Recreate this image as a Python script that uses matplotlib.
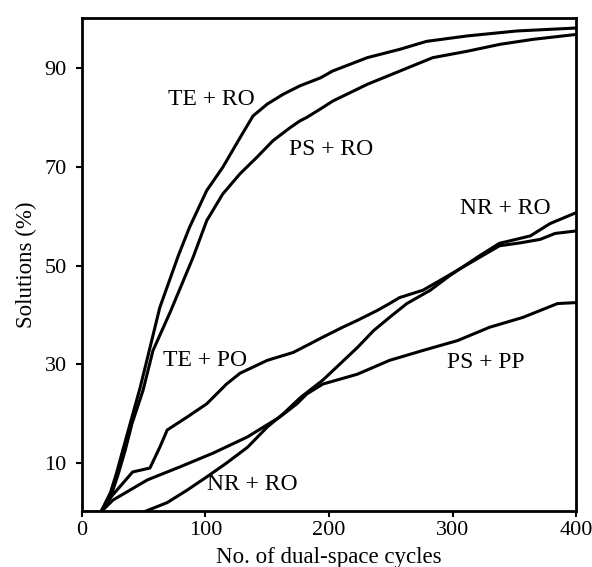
import matplotlib
matplotlib.use("Agg")
import matplotlib.pyplot as plt

# curves (x = dual-space cycles, y = solutions %)
te_ro_x = [0, 15, 23, 28, 33, 39, 47, 54, 63, 78, 87, 101, 114, 128, 138.5, 150, 163, 176.5, 193,
           203, 231, 257.5, 279, 312, 352, 400]
te_ro_y = [0, 0, 4, 8, 12.6, 18, 25.2, 32.3, 41.5, 52, 57.7, 65.2, 69.9, 75.9, 80.3, 82.7, 84.7, 86.4, 88,
           89.4, 92.1, 93.8, 95.4, 96.5, 97.5, 98.1]

ps_ro_x = [0, 15, 23, 29, 35, 40.5, 49.4, 57.5, 71.3, 90, 101, 114, 128, 141.5, 154.7, 168.4, 176.5,
           182, 193, 203, 231, 257.5, 284, 312, 338.5, 365, 400]
ps_ro_y = [0, 0, 3, 7.5, 12.6, 18, 24.7, 32.8, 40.5, 51.7, 59.1, 64.5, 68.6, 71.9, 75.3, 77.9, 79.3,
           80, 81.7, 83.3, 86.7, 89.4, 92.1, 93.4, 94.8, 95.8, 96.8]

te_po_x = [0, 15, 23, 41, 55, 63, 69, 85, 101, 117, 128, 150, 171, 185, 195, 211, 223, 239, 249,
           257, 276, 290, 314, 338, 355, 371, 383, 400]
te_po_y = [0, 0, 3, 8.2, 9, 13.2, 16.7, 19.3, 22, 26, 28.2, 30.8, 32.4, 34.2, 35.5, 37.5, 38.9, 40.9, 42.3,
           43.5, 45, 47, 50.5, 54, 54.6, 55.3, 56.5, 57]

ps_pp_x = [0, 15, 25, 53, 79, 106, 134, 160, 174, 182, 195, 223, 249, 276, 304, 330, 357, 371, 385, 400]
ps_pp_y = [0, 0, 2.5, 6.6, 9.2, 12, 15.3, 19.3, 22, 24, 26, 28, 30.8, 32.8, 34.8, 37.5, 39.5, 40.9, 42.3, 42.5]

nr_ro_x = [0, 49, 69, 85, 101, 117, 134, 150, 163, 177, 195, 209, 223, 236, 249, 263, 282, 298,
           322, 338, 363, 379, 400]
nr_ro_y = [0, 0, 2, 4.5, 7.2, 10, 13.2, 17.3, 20, 23.3, 26.8, 30.1, 33.4, 36.8, 39.5, 42.3, 45, 48,
           52, 54.5, 56, 58.5, 60.7]

labels = ["TE + RO", "PS + RO", "NR + RO", "TE + PO", "PS + PP", "NR + RO"]
label_x = [105, 202, 343, 100, 327, 138]
label_y = [83.7, 73.6, 61.5, 30.8, 30.4, 5.6]

plt.rcParams['font.family'] = ['Liberation Serif', 'DejaVu Serif']

fig = plt.figure(figsize=(5.92, 5.67), dpi=100)
ax = fig.add_axes([0.1385, 0.0988, 0.8345, 0.8692])

for xs, ys in [(te_ro_x, te_ro_y), (ps_ro_x, ps_ro_y), (te_po_x, te_po_y),
               (ps_pp_x, ps_pp_y), (nr_ro_x, nr_ro_y)]:
    ax.plot(xs, ys, color='black', lw=2.2, solid_joinstyle='round')

for t, x, y in zip(labels, label_x, label_y):
    ax.text(x, y, t, fontsize=17, ha='center', va='center')

ax.set_xlim(0, 400)
ax.set_ylim(0.3, 100.1)
ax.set_xticks([0, 100, 200, 300, 400])
ax.set_yticks([10, 30, 50, 70, 90])
ax.tick_params(labelsize=16, direction='out', length=4, width=1.5)
ax.tick_params(axis='y', pad=7)
for s in ax.spines.values():
    s.set_linewidth(2)

ax.set_xlabel("No. of dual-space cycles", fontsize=16.5, labelpad=5)
ax.set_ylabel("Solutions (%)", fontsize=16.5, labelpad=5)

fig.savefig("out.png", dpi=100)
